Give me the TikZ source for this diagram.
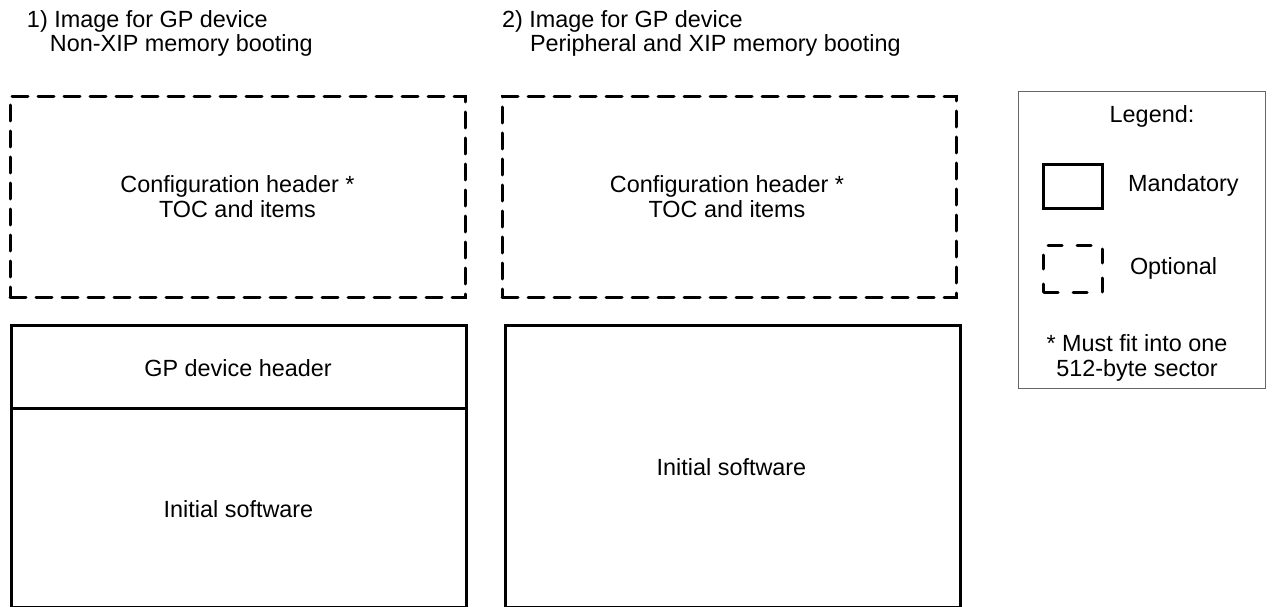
\documentclass[tikz,border=0pt]{standalone}
\usepackage{fontspec}
\setmainfont{Liberation Sans}
\begin{document}
\begin{tikzpicture}[x=1pt,y=-1pt,
  txt/.style={font=\fontsize{23.4}{24.5}\selectfont, inner sep=0pt, outer sep=0pt},
  solidbox/.style={draw=black, line width=3pt, inner sep=0pt, outer sep=0pt},
  dashbox/.style={draw=black, line width=3pt, line cap=round, dash pattern=on 16pt off 10pt, inner sep=0pt, outer sep=0pt},
  legdash/.style={draw=black, line width=3pt, line cap=round, dash pattern=on 14pt off 15pt, dash phase=-1pt, inner sep=0pt, outer sep=0pt},
  legendframe/.style={draw=black!60, line width=1pt, inner sep=0pt, outer sep=0pt}]
\useasboundingbox (0,0) rectangle (1275,607);

% titles (base anchor = baseline of the last line)
\node[txt, anchor=base west, align=left] (t1) at (27,52) {1) Image for GP device\\\hspace*{23pt}Non-XIP memory booting};
\node[txt, anchor=base west, align=left] (t2) at (502,52) {2) Image for GP device\\\hspace*{28pt}Peripheral and XIP memory booting};

% image 1
\node[dashbox, minimum width=455pt, minimum height=200pt] (cfg1) at (237.5,197) {};
\node[solidbox, minimum width=455pt, minimum height=83pt] (hdr1) at (238.5,366.5) {};
\node[solidbox, minimum width=455pt, minimum height=199pt] (sw1) at (238.5,507.5) {};
\node[txt, anchor=base, align=center] (cfg1t) at (237.5,217) {Configuration header *\\TOC and items};
\node[txt, anchor=base] (hdr1t) at (238,376) {GP device header};
\node[txt, anchor=base] (sw1t) at (238.5,517) {Initial software};

% image 2
\node[dashbox, minimum width=454pt, minimum height=200pt] (cfg2) at (729,197) {};
\node[solidbox, minimum width=455pt, minimum height=282pt] (sw2) at (732.5,466) {};
\node[txt, anchor=base, align=center] (cfg2t) at (727,217) {Configuration header *\\TOC and items};
\node[txt, anchor=base] (sw2t) at (731.5,475) {Initial software};

% legend
\node[legendframe, minimum width=247pt, minimum height=296pt] (leg) at (1141.5,240) {};
\node[txt, anchor=base] (legt) at (1152,123) {Legend:};
\node[solidbox, minimum width=59pt, minimum height=43pt] (mand) at (1072.5,186.5) {};
\node[txt, anchor=base west] (mandt) at (1128,192) {Mandatory};
\node[legdash, minimum width=59pt, minimum height=47pt] (opt) at (1072.5,268.5) {};
\node[txt, anchor=base west] (optt) at (1130,274) {Optional};
\node[txt, anchor=base, align=center] (note) at (1137,376) {* Must fit into one\\512-byte sector};
\end{tikzpicture}
\end{document}
